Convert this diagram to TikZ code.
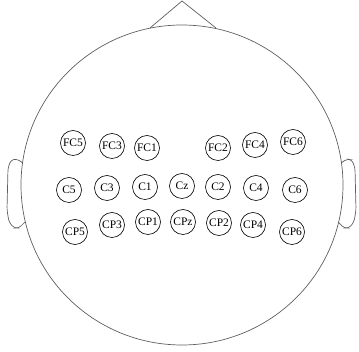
\documentclass[tikz,border=0pt]{standalone}
\usepackage{fontspec}
\setmainfont{Liberation Serif}
\usepackage{tikz}
\usetikzlibrary{positioning}
\definecolor{headgray}{RGB}{95,95,95}

\begin{document}
\begin{tikzpicture}[
x=1pt,y=-1pt,
outline/.style={draw=headgray,line width=0.7pt},
electrode/.style={circle,draw=black,line width=0.6pt,minimum size=25pt,inner sep=0pt,font=\fontsize{11.5}{13}\selectfont}
]
\useasboundingbox (0,0) rectangle (359,352);
% head, nose and ears
\draw[outline] (182,185) ellipse[x radius=161,y radius=160];
\coordinate (noseL) at (150,28);
\coordinate (noseTip) at (182,1);
\coordinate (noseR) at (216,28);
\draw[outline] (noseL)--(noseTip)--(noseR);
\draw[outline,rounded corners=3pt] (23,163)--(17,159)--(11,160)--(8,168)--(7,210)--(9,222)--(14,228)--(19,228)--(25,222);
\draw[outline,rounded corners=3pt] (341,163)--(347,159)--(352,160)--(355,168)--(356,210)--(354,222)--(349,228)--(344,228)--(338,222);
% frontal-central row
\node[electrode] (FC5) at (73,143) {FC5};
\node[electrode] (FC3) at (112,146) {FC3};
\node[electrode] (FC1) at (147,148) {FC1};
\node[electrode] (FC2) at (218,148) {FC2};
\node[electrode] (FC4) at (255,145) {FC4};
\node[electrode] (FC6) at (293,142) {FC6};
% central row
\node[electrode] (C5) at (69,190) {C5};
\node[electrode] (C3) at (107,188) {C3};
\node[electrode] (C1) at (145,187) {C1};
\node[electrode] (Cz) at (182,186) {Cz};
\node[electrode] (C2) at (218,187) {C2};
\node[electrode] (C4) at (256,188) {C4};
\node[electrode] (C6) at (295,190) {C6};
% central-parietal row
\node[electrode] (CP5) at (75,232) {CP5};
\node[electrode] (CP3) at (112,225) {CP3};
\node[electrode] (CP1) at (148,222) {CP1};
\node[electrode] (CPz) at (183,222) {CPz};
\node[electrode] (CP2) at (219,223) {CP2};
\node[electrode] (CP4) at (253,225) {CP4};
\node[electrode] (CP6) at (292,232) {CP6};
\end{tikzpicture}
\end{document}
